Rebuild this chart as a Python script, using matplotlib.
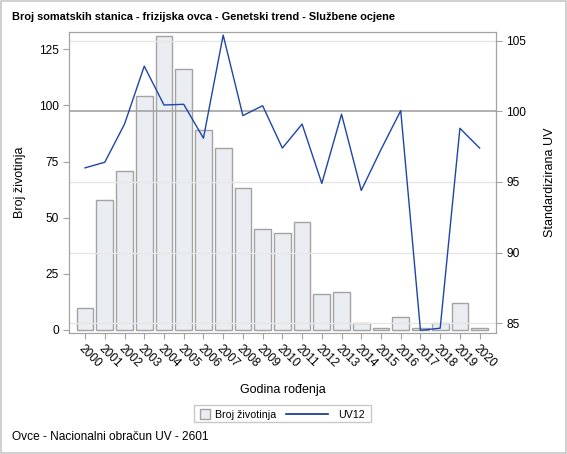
import matplotlib
matplotlib.use('Agg')
import matplotlib.pyplot as plt
from matplotlib.patches import Rectangle
from matplotlib.lines import Line2D

plt.rcParams['font.family'] = ['Liberation Sans', 'DejaVu Sans']

# podaci
godine = [str(g) for g in range(2000, 2021)]
broj_zivotinja = [10, 58, 71, 104, 131, 116, 89, 81, 63, 45, 43, 48,
                  16, 17, 3, 1, 6, 1, 3, 12, 1]
uv12 = [96.0, 96.4, 99.1, 103.2, 100.45, 100.5, 98.1, 105.4, 99.7, 100.4,
        97.4, 99.1, 94.9, 99.8, 94.4, 97.3, 100.05, 84.5, 84.65, 98.8, 97.4]
lijeve_oznake = [0, 25, 50, 75, 100, 125]
desne_oznake = [85, 90, 95, 100, 105]

GRAY = '#a3a3a3'
BLUE = '#1f45a8'
W, H = 567.0, 454.0

fig = plt.figure(figsize=(5.67, 4.54), dpi=100)
fig.patches.append(Rectangle((0.002, 0.002), 0.996, 0.996, transform=fig.transFigure,
                             fill=False, edgecolor='#c8c8c8', linewidth=1.2))

ax = fig.add_axes([0.1222, 0.2659, 0.7526, 0.6643])
ax2 = ax.twinx()

x = list(range(len(godine)))
ax.bar(x, broj_zivotinja, width=0.85, color='#eaedf2', edgecolor=GRAY,
       linewidth=1.0, zorder=2)
ax.set_xlim(-0.8, len(godine) - 0.17)
ax.set_ylim(-1.47, 132.8)
ax.set_yticks(lijeve_oznake)
ax.set_xticks(x)
ax.set_xticklabels(godine, rotation=-45, ha='left', va='top',
                   rotation_mode='anchor')
ax.set_ylabel('Broj životinja', fontsize=9)
ax.yaxis.set_label_coords(-0.101, 0.5)
ax.set_xlabel('Godina rođenja', fontsize=9, labelpad=10)

ax2.set_ylim(84.29, 105.64)
ax2.set_yticks(desne_oznake)
for v in desne_oznake:
    if v != 100:
        ax2.axhline(v, color='#e6e6e6', linewidth=1.0, zorder=0)
ax2.axhline(100, color=GRAY, linewidth=1.2, zorder=1)
ax2.plot(x, uv12, color=BLUE, linewidth=1.0, zorder=3)
ax2.set_ylabel('Standardizirana UV', fontsize=9)
ax2.yaxis.set_label_coords(1.113, 0.5)

for a in (ax, ax2):
    for s in a.spines.values():
        s.set_color(GRAY)
    a.tick_params(colors=GRAY, labelcolor='black', labelsize=8.6, length=4)

ax.tick_params(axis='x', pad=3)

fig.text(12 / W, 1 - 17 / H,
         'Broj somatskih stanica - frizijska ovca - Genetski trend - Službene ocjene',
         fontsize=7.9, fontweight='bold', va='center', ha='left')

# legenda (crtana ručno: mali kvadrat + duga linija)
ly = 1 - 413.5 / H
fig.patches.append(Rectangle((194 / W, 1 - 422 / H), 177 / W, 17 / H,
                             transform=fig.transFigure, fill=False,
                             edgecolor='#c8c8c8', linewidth=1.0))
fig.patches.append(Rectangle((200 / W, 1 - 418.5 / H), 10 / W, 10 / H,
                             transform=fig.transFigure, facecolor='#eaedf2',
                             edgecolor=GRAY, linewidth=1.0))
fig.text(215 / W, ly, 'Broj životinja', fontsize=7.7, va='center_baseline', ha='left')
fig.lines.append(Line2D([286 / W, 328 / W], [ly, ly], transform=fig.transFigure,
                        color='#0b2f8a', linewidth=1.2))
fig.text(338 / W, ly, 'UV12', fontsize=7.7, va='center_baseline', ha='left')

fig.text(12 / W, 1 - 437 / H, 'Ovce - Nacionalni obračun UV - 2601', fontsize=8.6,
         va='center', ha='left')

fig.savefig('out.png', dpi=100)
